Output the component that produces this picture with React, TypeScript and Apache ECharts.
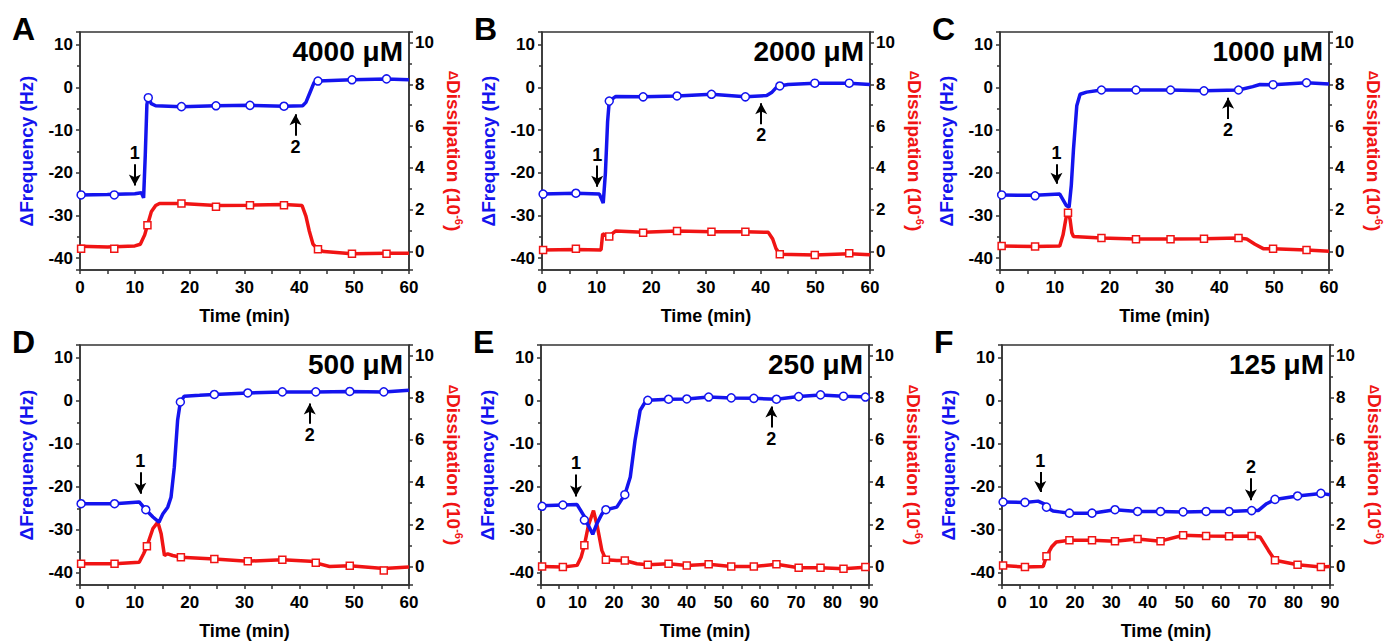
import React, { useEffect, useRef } from 'react';
import * as echarts from 'echarts';

const BLUE = '#1414ee';
const RED = '#f01414';
const AXIS = '#333333';
const FONT = '"Liberation Sans", Arial, sans-serif';

const letters = ['A', 'B', 'C', 'D', 'E', 'F'];
const concentrations = ['4000 μM', '2000 μM', '1000 μM', '500 μM', '250 μM', '125 μM'];
const timeMax = [60, 60, 60, 60, 90, 90];
const freqRange = [-42.8, 13];
const dissRange = [-0.88, 10.5];

// arrows: [time, tail ΔF, tip ΔF]
const arrow1 = [[10, -18, -23], [10.1, -18.3, -23.3], [10.3, -18, -22.6], [11, -16.6, -21.6], [9.6, -17.1, -22.2], [10.5, -16.5, -21.2]];
const arrow2 = [[39.3, -11.3, -6.3], [40.1, -8.6, -3.7], [41.6, -7.4, -2.4], [41.9, -5.3, -0.6], [63.2, -6.2, -1.3], [68.3, -18, -23.1]];

// Panel A – 4000 µM
const freqLineA = [[0, -25.2], [5, -25.1], [10, -24.9], [11.2, -24.7], [11.6, -25.9], [11.9, -16], [12.2, -4], [12.45, -2.4], [13, -3.8], [13.8, -4.3], [18.5, -4.5], [24.8, -4.3], [31, -4.2], [37.2, -4.4], [40.6, -4.3], [41.2, -3.5], [42, -1.0], [42.7, 1.2], [43.4, 1.5], [49.6, 1.8], [55.9, 2.0], [60, 1.8]];
const freqMarkA = [[0.2, -25.2], [6.25, -25.2], [12.45, -2.4], [18.5, -4.5], [24.8, -4.3], [31, -4.2], [37.2, -4.4], [43.4, 1.5], [49.6, 1.8], [55.9, 2.0]];
const dissLineA = [[0, 0.25], [5, 0.22], [10, 0.27], [11, 0.35], [11.8, 0.8], [12.3, 1.26], [13, 1.9], [13.8, 2.2], [14.5, 2.3], [18.5, 2.3], [24.8, 2.2], [31, 2.22], [37.2, 2.25], [40.5, 2.2], [41.2, 1.7], [41.8, 1.0], [42.5, 0.35], [43.4, 0.11], [44.5, 0], [49.6, -0.1], [55.9, -0.08], [60, -0.08]];
const dissMarkA = [[0.2, 0.14], [6.25, 0.14], [12.3, 1.26], [18.5, 2.3], [24.8, 2.15], [31, 2.22], [37.2, 2.22], [43.4, 0.11], [49.6, -0.1], [55.9, -0.1]];

// Panel B – 2000 µM
const freqLineB = [[0, -25], [6.2, -24.8], [10.5, -25], [11.2, -27.1], [11.6, -20], [12, -8], [12.3, -3.2], [13.5, -2.1], [18.5, -2.2], [24.7, -2.0], [31, -1.6], [37.2, -2.2], [41.1, -1.9], [42, -1.2], [43, 0.2], [43.5, 0.35], [45, 0.7], [49.9, 1.0], [56.2, 1.0], [60, 0.7]];
const freqMarkB = [[0.2, -25], [6.2, -24.8], [12.3, -3.2], [18.5, -2.2], [24.7, -2.0], [31, -1.6], [37.2, -2.2], [43.5, 0.35], [49.9, 1.0], [56.2, 1.0]];
const dissLineB = [[0, 0.08], [6.2, 0.1], [10.8, 0.08], [11.1, 0.85], [12.3, 0.75], [13.5, 0.99], [18.5, 0.92], [24.7, 0.98], [31, 0.95], [37.2, 0.95], [41.4, 0.92], [42.2, 0.6], [42.8, 0.15], [43.5, -0.13], [49.9, -0.16], [56.2, -0.1], [60, -0.15]];
const dissMarkB = [[0.2, 0.08], [6.2, 0.14], [12.3, 0.72], [18.5, 0.9], [24.7, 0.99], [31, 0.95], [37.2, 0.95], [43.5, -0.13], [49.9, -0.16], [56.2, -0.08]];

// Panel C – 1000 µM
const freqLineC = [[0, -25.2], [6.4, -25.3], [10.9, -25], [12.1, -27.7], [12.6, -28.1], [13, -23], [13.4, -14.5], [14, -4.3], [14.6, -1.6], [15.8, -1.1], [18.5, -0.6], [24.8, -0.6], [31.1, -0.6], [37.2, -0.8], [43.5, -0.6], [46.1, 0.2], [47.4, 0.7], [49.8, 0.65], [55.9, 1.1], [60, 0.8]];
const freqMarkC = [[0.3, -25.2], [6.4, -25.4], [18.5, -0.6], [24.8, -0.6], [31.1, -0.6], [37.2, -0.8], [43.5, -0.6], [49.8, 0.65], [55.9, 1.1]];
const dissLineC = [[0, 0.27], [6.4, 0.24], [10.9, 0.27], [11.5, 0.8], [12.1, 1.7], [12.4, 2.0], [12.8, 1.5], [13.1, 0.9], [13.4, 0.72], [15, 0.7], [18.5, 0.65], [24.8, 0.6], [31.1, 0.6], [37.2, 0.62], [43.5, 0.65], [45, 0.6], [46.5, 0.35], [48, 0.14], [49.8, 0.14], [55.9, 0.08], [60, 0.02]];
const dissMarkC = [[0.3, 0.27], [6.4, 0.24], [12.4, 1.86], [18.5, 0.65], [24.8, 0.59], [31.1, 0.59], [37.2, 0.62], [43.5, 0.65], [49.8, 0.14], [55.9, 0.08]];

// Panel D – 500 µM
const freqLineD = [[0, -23.9], [6.3, -23.9], [10.8, -23.5], [12, -25.3], [13.3, -27], [14.4, -28.2], [15.1, -26.3], [16, -24.7], [16.6, -22.4], [17.2, -15.4], [17.8, -4.5], [18.3, -0.25], [19, 1.1], [21.8, 1.3], [24.5, 1.5], [30.6, 1.85], [36.9, 2.1], [43, 2.1], [49.2, 2.2], [55.4, 2.1], [60, 2.5]];
const freqMarkD = [[0.2, -23.9], [6.3, -23.9], [12, -25.3], [18.3, -0.25], [24.5, 1.5], [30.6, 1.85], [36.9, 2.1], [43, 2.1], [49.2, 2.2], [55.4, 2.1]];
const dissLineD = [[0, 0.13], [6.3, 0.13], [10.8, 0.2], [11.6, 0.6], [12.2, 0.96], [13.3, 1.8], [14.2, 2.1], [14.8, 1.55], [15.4, 0.52], [16, 0.6], [16.9, 0.52], [18.4, 0.44], [24.5, 0.35], [30.6, 0.25], [36.9, 0.32], [42, 0.25], [43, 0.17], [45.5, 0], [49.2, 0.03], [55.4, -0.1], [60, -0.03]];
const dissMarkD = [[0.2, 0.13], [6.3, 0.13], [12.2, 0.96], [18.4, 0.44], [24.5, 0.35], [30.6, 0.25], [36.9, 0.32], [43, 0.17], [49.2, 0.03], [55.4, -0.19]];

// Panel E – 250 µM
const freqLineE = [[0, -24.4], [6, -24.2], [9.9, -24.1], [11.7, -26.6], [13, -29], [14.2, -31], [15.3, -28.6], [16.7, -26.3], [17.8, -25.3], [20.8, -24.7], [23, -21.8], [24.5, -17.7], [25.8, -9.2], [27.2, -2.2], [28.6, -0.25], [29.3, 0.14], [35, 0.4], [40, 0.45], [46, 0.9], [52.2, 0.7], [58.4, 0.6], [64.6, 0.4], [70.7, 1.0], [76.7, 1.4], [83, 1.1], [90, 0.9]];
const freqMarkE = [[0.3, -24.5], [6, -24.2], [11.9, -27.7], [17.8, -25.3], [23, -21.8], [29.3, 0.14], [35, 0.4], [40, 0.45], [46, 0.9], [52.2, 0.7], [58.4, 0.6], [64.6, 0.4], [70.7, 1.0], [76.7, 1.4], [83, 1.1], [89, 0.9]];
const dissLineE = [[0, 0], [6, -0.03], [9.9, 0.05], [11, 0.44], [11.9, 1.0], [13, 1.94], [14.4, 2.65], [15.5, 1.86], [16.7, 0.76], [17.8, 0.32], [20.8, 0.28], [23, 0.28], [26.3, 0.13], [29.3, 0.08], [35, 0.13], [40, 0.05], [46, 0.1], [52.2, 0], [58.4, 0], [64.6, 0.1], [70.7, -0.06], [76.7, -0.06], [83, -0.11], [90, -0.03]];
const dissMarkE = [[0.3, 0], [6, -0.03], [11.9, 1.0], [17.8, 0.32], [23, 0.28], [29.3, 0.08], [35, 0.13], [40, 0.05], [46, 0.1], [52.2, 0], [58.4, 0], [64.6, 0.1], [70.7, -0.06], [76.7, -0.06], [83, -0.11], [89, -0.03]];

// Panel F – 125 µM
const freqLineF = [[0, -23.5], [6.3, -23.6], [9.9, -23.3], [11.7, -24], [12.2, -24.7], [14, -25.6], [15.8, -25.8], [18.5, -26.1], [24.7, -26.1], [31, -25.3], [37.2, -25.7], [43.5, -25.7], [49.7, -25.8], [56, -25.7], [62.3, -25.7], [68.5, -25.5], [70.3, -25.5], [72.6, -23.9], [74.9, -22.9], [81.1, -22.1], [87.5, -21.5], [90, -21.8]];
const freqMarkF = [[0.3, -23.5], [6.3, -23.6], [12.2, -24.7], [18.5, -26.1], [24.7, -26.1], [31, -25.3], [37.2, -25.7], [43.5, -25.7], [49.7, -25.8], [56, -25.7], [62.3, -25.7], [68.5, -25.5], [74.9, -22.9], [81.1, -22.1], [87.5, -21.5]];
const dissLineF = [[0, 0.05], [6.3, -0.03], [11.3, 0], [12.2, 0.48], [13.6, 0.92], [14.9, 1.16], [18.5, 1.24], [24.7, 1.24], [31, 1.2], [37.2, 1.3], [43.5, 1.2], [49.7, 1.48], [56, 1.44], [62.3, 1.43], [68.5, 1.44], [70.8, 1.4], [73.1, 0.76], [74.9, 0.29], [81.1, 0.08], [87.5, -0.03], [90, 0]];
const dissMarkF = [[0.3, 0.05], [6.3, -0.03], [12.2, 0.48], [18.5, 1.24], [24.7, 1.24], [31, 1.2], [37.2, 1.3], [43.5, 1.2], [49.7, 1.48], [56, 1.44], [62.3, 1.43], [68.5, 1.44], [74.9, 0.29], [81.1, 0.08], [87.5, -0.03]];

const freqLines = [freqLineA, freqLineB, freqLineC, freqLineD, freqLineE, freqLineF];
const freqMarks = [freqMarkA, freqMarkB, freqMarkC, freqMarkD, freqMarkE, freqMarkF];
const dissLines = [dissLineA, dissLineB, dissLineC, dissLineD, dissLineE, dissLineF];
const dissMarks = [dissMarkA, dissMarkB, dissMarkC, dissMarkD, dissMarkE, dissMarkF];

// layout (pixels)
const boxes = [
  [80, 32, 329, 238], [542, 32, 328, 238], [1000, 32, 329, 238],
  [80, 345, 329, 240], [541, 345, 328, 240], [1002, 345, 328, 240],
];

function buildOption() {
  const grid: any[] = [];
  const xAxis: any[] = [];
  const yAxis: any[] = [];
  const series: any[] = [];
  const graphic: any[] = [];
  const tickStyle = { color: AXIS, width: 1.5 };
  const labelStyle = { color: '#000', fontSize: 17, fontWeight: 'bold', fontFamily: FONT };

  boxes.forEach(([l, t, w, h], i) => {
    grid.push({ left: l, top: t, width: w, height: h, show: true, borderColor: AXIS, borderWidth: 1.5, outerBoundsMode: 'none' });
    xAxis.push({
      type: 'value', gridIndex: i, min: 0, max: timeMax[i], interval: 10,
      axisLine: { show: true, onZero: false, lineStyle: tickStyle },
      axisTick: { show: true, length: 4, lineStyle: tickStyle },
      minorTick: { show: true, splitNumber: 2, length: 4, lineStyle: tickStyle },
      axisLabel: { ...labelStyle, margin: 9 },
      splitLine: { show: false },
      name: 'Time (min)', nameLocation: 'middle', nameGap: 37,
      nameTextStyle: { color: '#000', fontSize: 18, fontWeight: 'bold', fontFamily: FONT },
    });
    yAxis.push({
      type: 'value', gridIndex: i, position: 'left', min: freqRange[0], max: freqRange[1],
      splitNumber: 5, minInterval: 10, maxInterval: 10,
      axisLine: { show: true, onZero: false, lineStyle: tickStyle },
      axisTick: { show: true, length: 4, lineStyle: tickStyle },
      minorTick: { show: true, splitNumber: 2, length: 3, lineStyle: tickStyle },
      axisLabel: { ...labelStyle, margin: 7, showMinLabel: false, showMaxLabel: false },
      splitLine: { show: false },
      name: 'ΔFrequency (Hz)', nameLocation: 'middle', nameGap: 44,
      nameTextStyle: { color: BLUE, fontSize: 19, fontWeight: 'bold', fontFamily: FONT },
    });
    yAxis.push({
      type: 'value', gridIndex: i, position: 'right', min: dissRange[0], max: dissRange[1],
      splitNumber: 5, minInterval: 2, maxInterval: 2,
      axisLine: { show: true, onZero: false, lineStyle: tickStyle },
      axisTick: { show: true, length: 4, lineStyle: tickStyle },
      minorTick: { show: true, splitNumber: 2, length: 3, lineStyle: tickStyle },
      axisLabel: { ...labelStyle, margin: 6, showMinLabel: false, showMaxLabel: false },
      splitLine: { show: false },
      name: '{d|Δ}{a|Dissipation (10}{s|-6}{a|)}', nameLocation: 'middle', nameGap: 33, nameRotate: -90,
      nameTextStyle: {
        color: RED, fontSize: 19, fontWeight: 'bold', fontFamily: FONT,
        rich: {
          d: { color: RED, fontSize: 13, fontWeight: 'bold', fontFamily: FONT, lineHeight: 22 },
          a: { color: RED, fontSize: 19, fontWeight: 'bold', fontFamily: FONT, lineHeight: 22 },
          s: { color: RED, fontSize: 11, fontWeight: 'bold', fontFamily: FONT, lineHeight: 22, verticalAlign: 'top' },
        },
      },
    });

    const a1 = arrow1[i];
    const a2 = arrow2[i];
    series.push({
      type: 'line', xAxisIndex: i, yAxisIndex: 2 * i, data: freqLines[i], showSymbol: false, silent: true,
      lineStyle: { color: BLUE, width: 3.5 }, z: 3,
      markLine: {
        silent: true, animation: false, symbol: ['none', 'arrow'], symbolSize: [9, 11],
        lineStyle: { color: '#000', width: 2, type: 'solid' },
        label: { show: true, position: 'start', formatter: '{b}', color: '#000', fontSize: 18, fontWeight: 'bold', fontFamily: FONT, distance: 2 },
        emphasis: { disabled: true },
        data: [
          [{ name: '1', coord: [a1[0], a1[1]] }, { coord: [a1[0], a1[2]] }],
          [{ name: '2', coord: [a2[0], a2[1]] }, { coord: [a2[0], a2[2]] }],
        ],
      },
    });
    series.push({
      type: 'line', xAxisIndex: i, yAxisIndex: 2 * i + 1, data: dissLines[i], showSymbol: false, silent: true,
      lineStyle: { color: RED, width: 3.5 }, z: 2,
    });
    series.push({
      type: 'scatter', xAxisIndex: i, yAxisIndex: 2 * i, data: freqMarks[i], symbol: 'circle', symbolSize: 8, silent: true,
      itemStyle: { color: '#ffffff', borderColor: BLUE, borderWidth: 1.5, opacity: 1 }, z: 5,
    });
    series.push({
      type: 'scatter', xAxisIndex: i, yAxisIndex: 2 * i + 1, data: dissMarks[i], symbol: 'rect', symbolSize: 7, silent: true,
      itemStyle: { color: '#ffffff', borderColor: RED, borderWidth: 1.5, opacity: 1 }, z: 4,
    });

    graphic.push({
      type: 'text', left: l - 68, top: t - 19,
      style: { text: letters[i], fontSize: 32, fontWeight: 'bold', fontFamily: FONT, fill: '#000' },
    });
    graphic.push({
      type: 'text', x: l + w - 6, y: t + 19,
      style: { text: concentrations[i], fontSize: 28, fontWeight: 'bold', fontFamily: FONT, fill: '#000', textAlign: 'right', textVerticalAlign: 'middle' },
    });
  });

  return { animation: false, backgroundColor: '#ffffff', grid, xAxis, yAxis, series, graphic };
}

export default function App() {
  const ref = useRef<HTMLDivElement>(null);
  useEffect(() => {
    if (!ref.current) return;
    const chart = echarts.init(ref.current, undefined, { renderer: 'svg' });
    chart.setOption(buildOption() as any);
    return () => chart.dispose();
  }, []);
  return <div ref={ref} style={{ position: 'absolute', left: 0, top: 0, width: 1386, height: 641 }} />;
}
